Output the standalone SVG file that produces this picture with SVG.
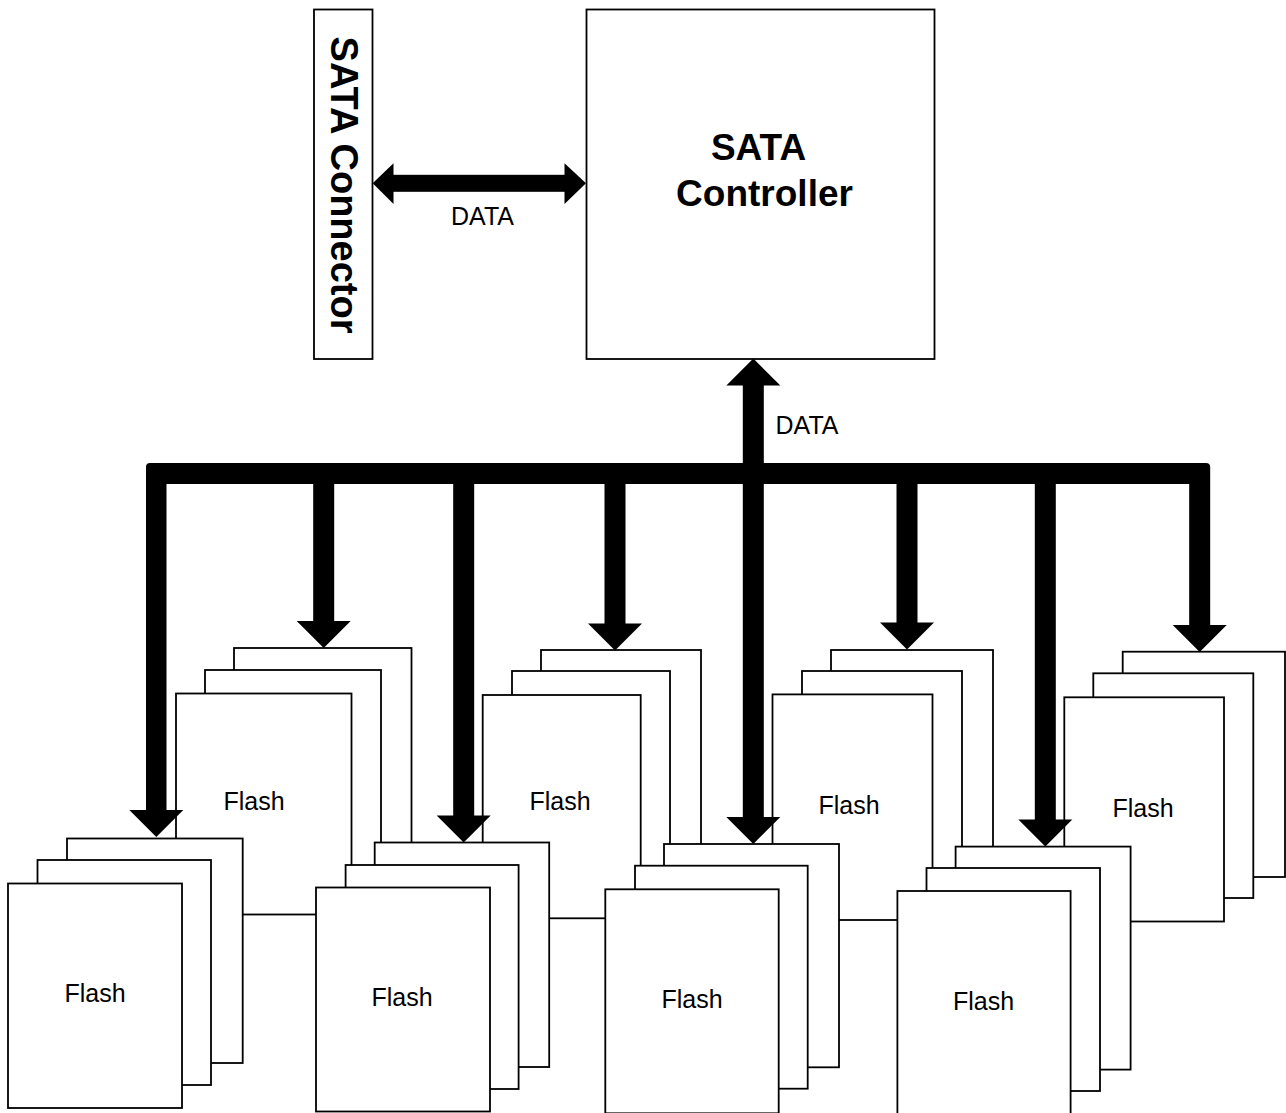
<svg xmlns="http://www.w3.org/2000/svg" xmlns:xlink="http://www.w3.org/1999/xlink" width="1286" height="1113" viewBox="0 0 1286 1113">
<style>
.box{fill:#fff;stroke:#000;stroke-width:1.8}
.ink{fill:#000;stroke:none}
.lbl{font-family:"Liberation Sans",Arial,sans-serif;font-size:25px;fill:#000;text-anchor:middle}
.big{font-family:"Liberation Sans",Arial,sans-serif;font-weight:bold;fill:#000;text-anchor:middle}
</style>
<defs>
<polygon id="hd" points="-27,0 27,0 0,27"/>
</defs>
<rect x="0" y="0" width="1286" height="1113" fill="#fff"/>

<g id="sata-connector">
<rect class="box" x="314" y="9.5" width="58.5" height="349.5"/>
<text class="big" font-size="38" transform="translate(331,185) rotate(90)">SATA Connector</text>
</g>

<g id="sata-controller">
<rect class="box" x="586.5" y="9.5" width="348" height="349.5"/>
<text class="big" font-size="37" x="758.5" y="159.5">SATA</text>
<text class="big" font-size="37" x="764.5" y="206">Controller</text>
</g>

<g id="flash-back-1">
<rect class="box" x="234" y="648" width="177.5" height="221"/>
<rect class="box" x="205" y="670" width="176" height="221"/>
<rect class="box" x="176" y="693.5" width="175.5" height="221"/>
<text class="lbl" x="254" y="810">Flash</text>
</g>
<g id="flash-back-2">
<rect class="box" x="541" y="650" width="160" height="223"/>
<rect class="box" x="512" y="671" width="158" height="223"/>
<rect class="box" x="482.7" y="695" width="158" height="223.3"/>
<text class="lbl" x="560" y="810">Flash</text>
</g>
<g id="flash-back-3">
<rect class="box" x="831" y="650" width="162" height="225"/>
<rect class="box" x="802" y="671" width="160" height="225"/>
<rect class="box" x="772.5" y="694.4" width="160" height="225.6"/>
<text class="lbl" x="849" y="814">Flash</text>
</g>
<g id="flash-back-4">
<rect class="box" x="1122.7" y="651.7" width="162.3" height="225.3"/>
<rect class="box" x="1093.3" y="673.3" width="160" height="224.7"/>
<rect class="box" x="1064.3" y="697.3" width="159.7" height="224.2"/>
<text class="lbl" x="1143" y="817">Flash</text>
</g>

<g id="flash-front-1">
<rect class="box" x="67" y="838.5" width="175.7" height="224.5"/>
<rect class="box" x="37.5" y="860" width="173.5" height="225"/>
<rect class="box" x="8" y="883.5" width="174" height="224.5"/>
<text class="lbl" x="95" y="1002">Flash</text>
</g>
<g id="flash-front-2">
<rect class="box" x="374.7" y="842.5" width="174.5" height="224.5"/>
<rect class="box" x="345.6" y="865" width="173" height="224"/>
<rect class="box" x="316" y="887.5" width="174" height="224"/>
<text class="lbl" x="402" y="1006">Flash</text>
</g>
<g id="flash-front-3">
<rect class="box" x="664" y="844" width="175" height="223.3"/>
<rect class="box" x="635" y="865.7" width="172.7" height="223"/>
<rect class="box" x="605.3" y="889.3" width="173.4" height="224"/>
<text class="lbl" x="692" y="1008">Flash</text>
</g>
<g id="flash-front-4">
<rect class="box" x="955.6" y="846.6" width="175" height="223"/>
<rect class="box" x="926.5" y="868" width="173.5" height="223"/>
<rect class="box" x="897.4" y="891" width="173.2" height="224"/>
<text class="lbl" x="983.5" y="1010">Flash</text>
</g>

<g id="connectors">
<rect class="ink" x="392" y="174.8" width="174" height="17"/>
<polygon class="ink" points="372.7,183.3 393.5,163.3 393.5,204"/>
<polygon class="ink" points="586,183.3 564.5,163.3 564.5,204"/>
<text class="lbl" x="482.5" y="225">DATA</text>
<path class="ink" d="M146,811 V467 Q146,463 150,463 H1206 Q1210.2,463 1210.2,467 V626 H1189.2 V484 H166.5 V811 Z"/>
<rect class="ink" x="313.2" y="483" width="21" height="139"/>
<rect class="ink" x="453.2" y="483" width="21" height="333.5"/>
<rect class="ink" x="604.5" y="483" width="21" height="141.5"/>
<rect class="ink" x="742.8" y="384" width="21" height="434"/>
<rect class="ink" x="896.5" y="483" width="21" height="140.5"/>
<rect class="ink" x="1034.8" y="483" width="21" height="337.5"/>
<use href="#hd" xlink:href="#hd" x="156.3" y="810"/>
<use href="#hd" xlink:href="#hd" x="323.7" y="621"/>
<use href="#hd" xlink:href="#hd" x="463.7" y="815.5"/>
<use href="#hd" xlink:href="#hd" x="615" y="623.5"/>
<use href="#hd" xlink:href="#hd" x="753.3" y="817"/>
<use href="#hd" xlink:href="#hd" x="907" y="622.5"/>
<use href="#hd" xlink:href="#hd" x="1045.3" y="819.5"/>
<use href="#hd" xlink:href="#hd" x="1199.7" y="625"/>
<use href="#hd" xlink:href="#hd" transform="translate(753.3,385.5) scale(1,-1)"/>
<text class="lbl" x="807" y="433.5">DATA</text>
</g>
</svg>
